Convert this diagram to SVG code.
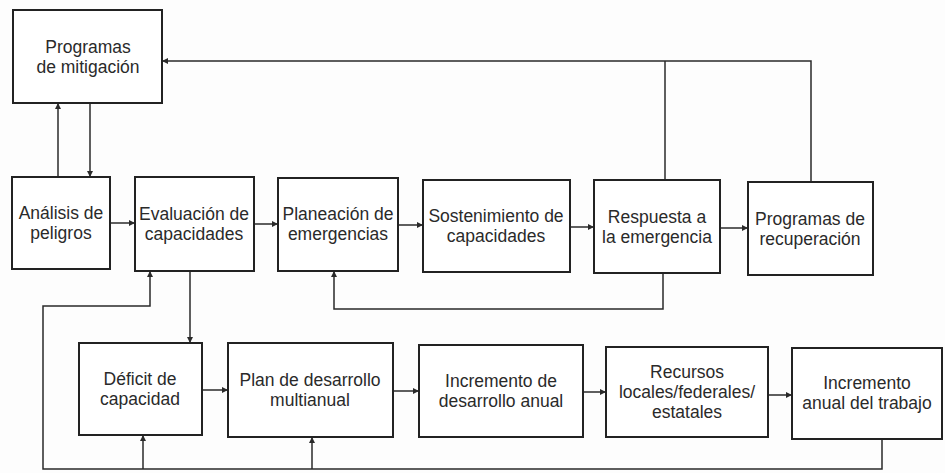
<svg xmlns="http://www.w3.org/2000/svg" width="945" height="473" viewBox="0 0 945 473">
<style>
.box{fill:#fff;stroke:#222;stroke-width:2}
.t{font-family:"Liberation Sans",Arial,sans-serif;font-size:17.5px;fill:#2a2a2a;text-anchor:middle}
.c{fill:none;stroke:#2a2a2a;stroke-width:1.5}
</style>
<defs>
<marker id="ah" viewBox="0 0 10 10" refX="10" refY="5" markerWidth="8" markerHeight="6" markerUnits="userSpaceOnUse" orient="auto">
<path d="M0,0 L10,5 L0,10 z" fill="#2a2a2a"/>
</marker>
</defs>
<rect width="945" height="473" fill="#fdfdfd"/>
<g id="connectors">
<path class="c" d="M110,223 H135" marker-end="url(#ah)"/>
<path class="c" d="M254,224 H278" marker-end="url(#ah)"/>
<path class="c" d="M398,225 H423" marker-end="url(#ah)"/>
<path class="c" d="M570,227 H594" marker-end="url(#ah)"/>
<path class="c" d="M720,228 H748" marker-end="url(#ah)"/>
<path class="c" d="M58,177 V103" marker-end="url(#ah)"/>
<path class="c" d="M90,103 V177" marker-end="url(#ah)"/>
<path class="c" d="M811,182 V61 H162" marker-end="url(#ah)"/>
<path class="c" d="M665,180 V61"/>
<path class="c" d="M663,273 V309 H334 V271" marker-end="url(#ah)"/>
<path class="c" d="M190,271 V343" marker-end="url(#ah)"/>
<path class="c" d="M202,390 H228" marker-end="url(#ah)"/>
<path class="c" d="M393,391 H419" marker-end="url(#ah)"/>
<path class="c" d="M583,392 H606" marker-end="url(#ah)"/>
<path class="c" d="M768,395 H792" marker-end="url(#ah)"/>
<path class="c" d="M882,439 V469 H43 V306 H150 V271" marker-end="url(#ah)"/>
<path class="c" d="M143,469 V435" marker-end="url(#ah)"/>
<path class="c" d="M312,469 V437" marker-end="url(#ah)"/>
</g>
<g id="mitigacion">
<rect class="box" x="13" y="10" width="149" height="93"/>
<text class="t" x="88" y="53">Programas</text>
<text class="t" x="88" y="73">de mitigación</text>
</g>
<g id="analisis">
<rect class="box" x="12" y="177" width="98" height="92"/>
<text class="t" x="61" y="219">Análisis de</text>
<text class="t" x="61" y="239">peligros</text>
</g>
<g id="evaluacion">
<rect class="box" x="135" y="177" width="119" height="94"/>
<text class="t" x="194" y="220">Evaluación de</text>
<text class="t" x="194" y="240">capacidades</text>
</g>
<g id="planeacion">
<rect class="box" x="278" y="178" width="120" height="93"/>
<text class="t" x="338" y="220">Planeación de</text>
<text class="t" x="338" y="240">emergencias</text>
</g>
<g id="sostenimiento">
<rect class="box" x="423" y="180" width="147" height="92"/>
<text class="t" x="496" y="222">Sostenimiento de</text>
<text class="t" x="496" y="242">capacidades</text>
</g>
<g id="respuesta">
<rect class="box" x="594" y="180" width="126" height="93"/>
<text class="t" x="657" y="223">Respuesta a</text>
<text class="t" x="657" y="243">la emergencia</text>
</g>
<g id="recuperacion">
<rect class="box" x="748" y="182" width="125" height="93"/>
<text class="t" x="810" y="225">Programas de</text>
<text class="t" x="810" y="245">recuperación</text>
</g>
<g id="deficit">
<rect class="box" x="79" y="343" width="123" height="92"/>
<text class="t" x="140" y="385">Déficit de</text>
<text class="t" x="140" y="405">capacidad</text>
</g>
<g id="plan">
<rect class="box" x="228" y="343" width="165" height="94"/>
<text class="t" x="310" y="386">Plan de desarrollo</text>
<text class="t" x="310" y="406">multianual</text>
</g>
<g id="incremento">
<rect class="box" x="419" y="345" width="164" height="92"/>
<text class="t" x="501" y="387">Incremento de</text>
<text class="t" x="501" y="407">desarrollo anual</text>
</g>
<g id="recursos">
<rect class="box" x="606" y="347" width="162" height="90"/>
<text class="t" x="687" y="378">Recursos</text>
<text class="t" x="687" y="398">locales/federales/</text>
<text class="t" x="687" y="418">estatales</text>
</g>
<g id="incremento_anual">
<rect class="box" x="792" y="348" width="150" height="91"/>
<text class="t" x="867" y="389">Incremento</text>
<text class="t" x="867" y="409">anual del trabajo</text>
</g>
</svg>
